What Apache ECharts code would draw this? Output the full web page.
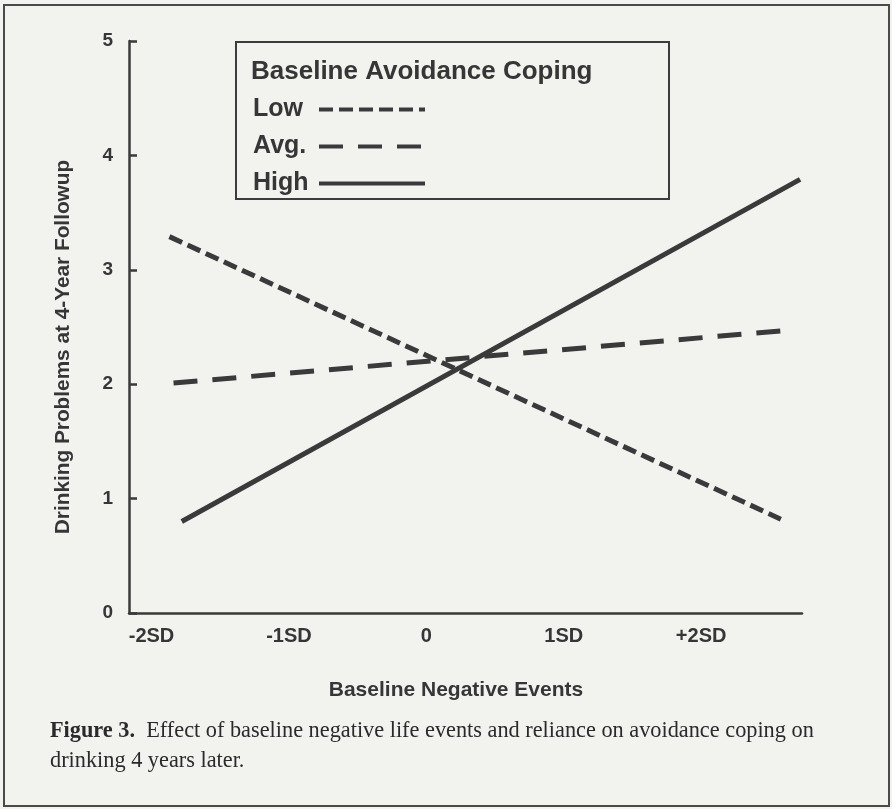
<!DOCTYPE html>
<html>
<head>
<meta charset="utf-8">
<script src="https://cdn.jsdelivr.net/npm/echarts@6/dist/echarts.min.js"></script>
<style>
  html, body { margin: 0; padding: 0; background: #f2f2ef; }
  #chart { width: 892px; height: 809px; }
</style>
</head>
<body>
<div id="chart"></div>
<script>
// Baseline negative events (in SD units) on x, drinking problems on y
const xTickValues = [-2, -1, 0, 1, 2];
const xTickLabels = ['-2SD', '-1SD', '0', '1SD', '+2SD'];
const seriesNames = ['Low', 'Avg.', 'High'];

// Each line: [start, end] as [SD, score]
const lowLine = [[-1.87, 3.29], [2.58, 0.82]];
const avgLine = [[-1.84, 2.01], [2.62, 2.47]];
const highLine = [[-1.78, 0.80], [2.72, 3.79]];

const legendTitle = 'Baseline Avoidance Coping';
const yTitle = 'Drinking Problems at 4-Year Followup';
const xTitle = 'Baseline Negative Events';
const captionLead = 'Figure 3.';
const captionLine1 = '  Effect of baseline negative life events and reliance on avoidance coping on';
const captionLine2 = 'drinking 4 years later.';

const ink = '#363636';
const lineInk = '#3a3a3a';
const bg = '#f2f2ef';
const sans = '"Liberation Sans", Arial, sans-serif';
const serif = '"Liberation Serif", "Times New Roman", serif';

const chart = echarts.init(document.getElementById('chart'), null, { renderer: 'canvas' });

chart.setOption({
  backgroundColor: bg,
  animation: false,
  grid: { left: 129, right: 90, top: 41, bottom: 196, outerBoundsMode: 'none' },
  title: {
    text: legendTitle,
    left: 251,
    top: 59,
    padding: 0,
    textStyle: { fontFamily: sans, fontWeight: 'bold', fontSize: 26, color: ink }
  },
  legend: {
    data: seriesNames,
    orient: 'vertical',
    align: 'right',
    left: 236,
    top: 42,
    padding: [55, 242, 3, 17],
    itemWidth: 106,
    itemHeight: 14,
    itemGap: 12,
    borderColor: '#3c3c3c',
    borderWidth: 2,
    borderRadius: 0,
    backgroundColor: bg,
    itemStyle: { color: 'rgba(0,0,0,0)', borderWidth: 0, opacity: 0 },
    lineStyle: { width: 4 },
    inactiveColor: ink,
    selectedMode: false,
    formatter: '{t|{name}}',
    textStyle: {
      color: ink,
      rich: {
        t: { width: 61, align: 'left', fontFamily: sans, fontWeight: 'bold', fontSize: 25, lineHeight: 28, color: ink }
      }
    }
  },
  xAxis: {
    type: 'value',
    min: -2.164,
    max: 2.734,
    axisLine: { show: true, onZero: false, lineStyle: { color: lineInk, width: 2.5 } },
    axisTick: { show: false },
    splitLine: { show: false },
    axisLabel: {
      customValues: xTickValues,
      margin: 13,
      formatter: function (v) {
        const i = xTickValues.indexOf(v);
        return i >= 0 ? xTickLabels[i] : '';
      },
      fontFamily: sans, fontWeight: 'bold', fontSize: 20, color: ink
    }
  },
  yAxis: {
    type: 'value',
    min: 0,
    max: 5,
    interval: 1,
    axisLine: { show: true, onZero: false, lineStyle: { color: lineInk, width: 2.5 } },
    axisTick: { show: true, inside: true, length: 8, lineStyle: { color: lineInk, width: 2.5 } },
    splitLine: { show: false },
    axisLabel: { margin: 16, fontFamily: sans, fontWeight: 'bold', fontSize: 19, color: ink }
  },
  series: [
    {
      name: seriesNames[0], type: 'line', data: lowLine, symbol: 'none', silent: true,
      lineStyle: { color: lineInk, width: 5, type: [14, 6], cap: 'butt' }
    },
    {
      name: seriesNames[1], type: 'line', data: avgLine, symbol: 'none', silent: true,
      lineStyle: { color: lineInk, width: 5, type: [24, 15], cap: 'butt' }
    },
    {
      name: seriesNames[2], type: 'line', data: highLine, symbol: 'none', silent: true,
      lineStyle: { color: lineInk, width: 5, type: 'solid', cap: 'butt' }
    }
  ],
  graphic: [
    {
      type: 'rect', silent: true, z: -1,
      shape: { x: 4, y: 5, width: 885, height: 801 },
      style: { fill: 'none', stroke: '#4a4a4a', lineWidth: 2 }
    },
    {
      type: 'text', silent: true,
      x: 63, y: 347, rotation: Math.PI / 2,
      style: {
        text: yTitle, align: 'center', verticalAlign: 'middle',
        font: 'bold 20.8px ' + sans, fill: ink
      }
    },
    {
      type: 'text', silent: true,
      x: 456, y: 690,
      style: {
        text: xTitle, align: 'center', verticalAlign: 'middle',
        font: 'bold 21px ' + sans, fill: ink
      }
    },
    {
      type: 'text', silent: true,
      x: 50, y: 731,
      style: {
        text: '{b|' + captionLead + '}{r|' + captionLine1 + '}',
        verticalAlign: 'middle',
        rich: {
          b: { fontFamily: serif, fontWeight: 'bold', fontSize: 22.3, fill: '#2a2a2a' },
          r: { fontFamily: serif, fontSize: 22.3, fill: '#2a2a2a' }
        }
      }
    },
    {
      type: 'text', silent: true,
      x: 50, y: 761,
      style: {
        text: captionLine2, verticalAlign: 'middle',
        font: '22.3px ' + serif, fill: '#2a2a2a'
      }
    }
  ]
});
</script>
</body>
</html>
